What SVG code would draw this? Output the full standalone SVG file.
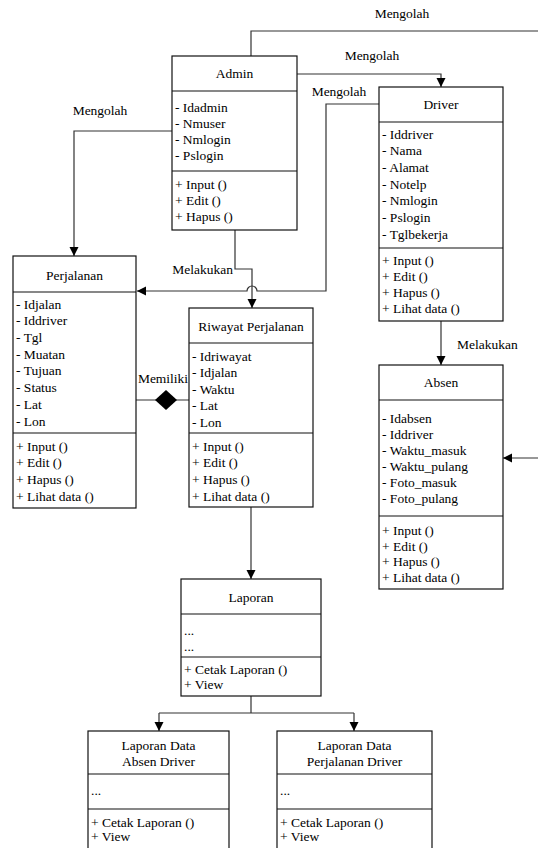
<svg xmlns="http://www.w3.org/2000/svg" width="538" height="848" viewBox="0 0 538 848" font-family="'Liberation Serif', Tinos, 'Times New Roman', 'DejaVu Serif', serif">
<style>
text{font-family:'Liberation Serif',Tinos,'Times New Roman','DejaVu Serif',serif;font-size:13.5px;fill:#000}
.c{text-anchor:middle}
.box{fill:#fff;stroke:#111;stroke-width:1.2}
.div{stroke:#111;stroke-width:1.2}
.ln{fill:none;stroke:#333;stroke-width:1.2}
</style>
<defs>
<marker id="ar" markerUnits="userSpaceOnUse" markerWidth="10" markerHeight="10" refX="9" refY="4.5" orient="auto">
<path d="M0,0 L9,4.5 L0,9 z" fill="#000"/>
</marker>
</defs>
<rect width="538" height="848" fill="#fff"/>
<g id="connectors">
<path class="ln" d="M251,56 V31 H538"/>
<path class="ln" d="M297,74 H441 V87" marker-end="url(#ar)"/>
<path class="ln" d="M379,104 H326 V291 H257 A5,5 0 0 0 247,291 H137" marker-end="url(#ar)"/>
<path class="ln" d="M172,131 H74 V256" marker-end="url(#ar)"/>
<path class="ln" d="M235,230 V269 H252 V308" marker-end="url(#ar)"/>
<path class="ln" d="M136,400 H189"/>
<polygon points="155,400 166,390 177,400 166,410" fill="#000"/>
<path class="ln" d="M441,321 V365" marker-end="url(#ar)"/>
<path class="ln" d="M538,458 H503" marker-end="url(#ar)"/>
<path class="ln" d="M251,507 V579" marker-end="url(#ar)"/>
<path class="ln" d="M251,696 V713 M159,713 H354"/>
<path class="ln" d="M159,713 V731" marker-end="url(#ar)"/>
<path class="ln" d="M354,713 V731" marker-end="url(#ar)"/>
<text class="c" x="402" y="18">Mengolah</text>
<text class="c" x="372" y="60">Mengolah</text>
<text class="c" x="339" y="96">Mengolah</text>
<text class="c" x="100" y="115">Mengolah</text>
<text x="233" y="274" text-anchor="end">Melakukan</text>
<text class="c" x="163" y="383">Memiliki</text>
<text x="457" y="349">Melakukan</text>
</g>
<g id="admin">
<rect class="box" x="172" y="56" width="125" height="174"/>
<line class="div" x1="172" y1="91" x2="297" y2="91"/>
<line class="div" x1="172" y1="171" x2="297" y2="171"/>
<text class="c" x="234.5" y="78">Admin</text>
<text x="175" y="111.5">- Idadmin</text>
<text x="175" y="127.5">- Nmuser</text>
<text x="175" y="143.5">- Nmlogin</text>
<text x="175" y="159.5">- Pslogin</text>
<text x="175" y="188.5">+ Input ()</text>
<text x="175" y="204.5">+ Edit ()</text>
<text x="175" y="220.5">+ Hapus ()</text>
</g>
<g id="driver">
<rect class="box" x="379" y="87" width="124" height="234"/>
<line class="div" x1="379" y1="122" x2="503" y2="122"/>
<line class="div" x1="379" y1="248" x2="503" y2="248"/>
<text class="c" x="441" y="109">Driver</text>
<text x="382" y="138.5">- Iddriver</text>
<text x="382" y="155.2">- Nama</text>
<text x="382" y="171.8">- Alamat</text>
<text x="382" y="188.5">- Notelp</text>
<text x="382" y="205.2">- Nmlogin</text>
<text x="382" y="221.8">- Pslogin</text>
<text x="382" y="238.5">- Tglbekerja</text>
<text x="382" y="264.5">+ Input ()</text>
<text x="382" y="280.5">+ Edit ()</text>
<text x="382" y="296.5">+ Hapus ()</text>
<text x="382" y="312.5">+ Lihat data ()</text>
</g>
<g id="perjalanan">
<rect class="box" x="13" y="256" width="123" height="252"/>
<line class="div" x1="13" y1="292" x2="136" y2="292"/>
<line class="div" x1="13" y1="433" x2="136" y2="433"/>
<text class="c" x="74.5" y="279.5">Perjalanan</text>
<text x="16" y="308.5">- Idjalan</text>
<text x="16" y="325.2">- Iddriver</text>
<text x="16" y="341.9">- Tgl</text>
<text x="16" y="358.6">- Muatan</text>
<text x="16" y="375.3">- Tujuan</text>
<text x="16" y="392">- Status</text>
<text x="16" y="408.7">- Lat</text>
<text x="16" y="425.5">- Lon</text>
<text x="16" y="450.5">+ Input ()</text>
<text x="16" y="467">+ Edit ()</text>
<text x="16" y="483.5">+ Hapus ()</text>
<text x="16" y="500.5">+ Lihat data ()</text>
</g>
<g id="riwayat">
<rect class="box" x="189" y="308" width="124" height="199"/>
<line class="div" x1="189" y1="343" x2="313" y2="343"/>
<line class="div" x1="189" y1="433" x2="313" y2="433"/>
<text class="c" x="251" y="330.5">Riwayat Perjalanan</text>
<text x="192" y="360.5">- Idriwayat</text>
<text x="192" y="377">- Idjalan</text>
<text x="192" y="393.5">- Waktu</text>
<text x="192" y="410">- Lat</text>
<text x="192" y="426.5">- Lon</text>
<text x="192" y="450.5">+ Input ()</text>
<text x="192" y="467.2">+ Edit ()</text>
<text x="192" y="483.8">+ Hapus ()</text>
<text x="192" y="500.5">+ Lihat data ()</text>
</g>
<g id="absen">
<rect class="box" x="379" y="365" width="124" height="224"/>
<line class="div" x1="379" y1="400" x2="503" y2="400"/>
<line class="div" x1="379" y1="516" x2="503" y2="516"/>
<text class="c" x="441" y="386.5">Absen</text>
<text x="382" y="422.5">- Idabsen</text>
<text x="382" y="438.5">- Iddriver</text>
<text x="382" y="454.5">- Waktu_masuk</text>
<text x="382" y="470.5">- Waktu_pulang</text>
<text x="382" y="486.5">- Foto_masuk</text>
<text x="382" y="502.5">- Foto_pulang</text>
<text x="382" y="534.5">+ Input ()</text>
<text x="382" y="550.5">+ Edit ()</text>
<text x="382" y="566">+ Hapus ()</text>
<text x="382" y="581.5">+ Lihat data ()</text>
</g>
<g id="laporan">
<rect class="box" x="181" y="579" width="140" height="117"/>
<line class="div" x1="181" y1="614" x2="321" y2="614"/>
<line class="div" x1="181" y1="657" x2="321" y2="657"/>
<text class="c" x="251" y="601.5">Laporan</text>
<text x="184" y="634.5">...</text>
<text x="184" y="650.5">...</text>
<text x="184" y="673.5">+ Cetak Laporan ()</text>
<text x="184" y="688.5">+ View</text>
</g>
<g id="laporan-absen">
<rect class="box" x="88" y="731" width="141" height="130"/>
<line class="div" x1="88" y1="774" x2="229" y2="774"/>
<line class="div" x1="88" y1="809" x2="229" y2="809"/>
<text class="c" x="158.5" y="749.5">Laporan Data</text>
<text class="c" x="158.5" y="765.5">Absen Driver</text>
<text x="91" y="794.5">...</text>
<text x="91" y="826.5">+ Cetak Laporan ()</text>
<text x="91" y="840.5">+ View</text>
</g>
<g id="laporan-perjalanan">
<rect class="box" x="277" y="731" width="155" height="130"/>
<line class="div" x1="277" y1="774" x2="432" y2="774"/>
<line class="div" x1="277" y1="809" x2="432" y2="809"/>
<text class="c" x="354.5" y="749.5">Laporan Data</text>
<text class="c" x="354.5" y="765.5">Perjalanan Driver</text>
<text x="280" y="794.5">...</text>
<text x="280" y="826.5">+ Cetak Laporan ()</text>
<text x="280" y="840.5">+ View</text>
</g>
</svg>
